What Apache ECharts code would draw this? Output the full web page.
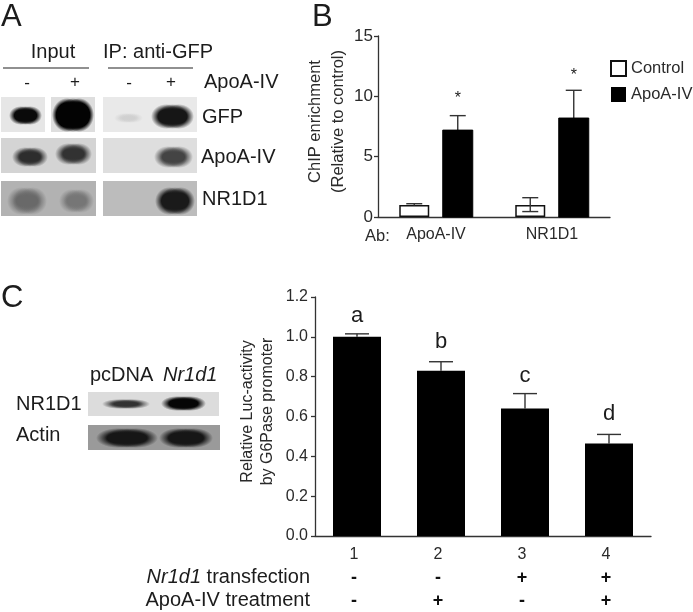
<!DOCTYPE html>
<html><head><meta charset="utf-8">
<style>html,body{margin:0;padding:0;background:#fff}#c{width:693px;height:612px;filter:blur(0.35px)}</style>
<script src="https://cdn.jsdelivr.net/npm/echarts@6/dist/echarts.min.js"></script>
</head><body><div id="c"></div>
<script>
// Panel B data
var chipCategories = ['ApoA-IV', 'NR1D1'];
var chipControl = [1.0, 1.0];
var chipApoA = [7.2, 8.2];
var chipControlErrLow = [0.95, 0.45];
var chipControlErrHigh = [1.1, 1.6];
var chipApoAErrHigh = [8.4, 10.5];
var chipStarValue = [9.85, 11.75];
var chipStars = ['*', '*'];
// Panel C data
var lucTicks = ['1', '2', '3', '4'];
var lucRowTransfection = ['-', '-', '+', '+'];
var lucRowTreatment = ['-', '+', '-', '+'];
var lucValues = [1.0, 0.83, 0.64, 0.465];
var lucErrHigh = [1.015, 0.875, 0.715, 0.51];
var lucLetters = ['a', 'b', 'c', 'd'];
var lucLetterValue = [1.105, 0.975, 0.805, 0.615];

var FONT = '"Liberation Sans", Arial, sans-serif';
var INK = '#2a2a2a';

function txt(text, x, y, size, extra) {
  var st = {x: x, y: y, text: text, fill: extra && extra.fill || '#1c1c1c',
    font: (extra && extra.style || '') + ' ' + size + 'px ' + FONT,
    textAlign: extra && extra.align || 'left', textVerticalAlign: 'middle'};
  return {type: 'text', z: 20, style: st};
}
function panel(x, y, w, h, c) {
  return {type: 'rect', z: 5, shape: {x: x, y: y, width: w, height: h}, style: {fill: c}};
}
// A blurred protein band on a blot: three overlapping soft ellipses.
function band(x1, x2, y1, y2, rgb, hard) {
  var ry = (y2 - y1) / 2, rx = (x2 - x1) * 0.36, cy = (y1 + y2) / 2;
  var solid = 'rgba(' + rgb + ',1)', clear = 'rgba(' + rgb + ',0)';
  return [x1 + rx, (x1 + x2) / 2, x2 - rx].map(function (cx) {
    return {type: 'circle', z: 6, x: cx, y: cy, scaleX: rx / ry, shape: {cx: 0, cy: 0, r: ry},
      style: {fill: {type: 'radial', x: 0.5, y: 0.5, r: 0.5,
        colorStops: [{offset: 0, color: solid}, {offset: hard, color: solid}, {offset: 1, color: clear}]}}};
  });
}
function rule(x1, x2, y) {
  return {type: 'line', z: 6, shape: {x1: x1, y1: y, x2: x2, y2: y}, style: {stroke: '#222', lineWidth: 1.2}};
}

var blots = [].concat(
  panel(1, 97, 44, 35, '#e6e6e6'), panel(51, 97, 44, 35, '#dedede'), panel(103, 97, 94, 35, '#e9e9e9'),
  panel(1, 138, 95, 35, '#d4d4d4'), panel(103, 138, 94, 35, '#dedede'),
  panel(1, 181, 95, 35, '#b2b2b2'), panel(103, 181, 94, 35, '#bcbcbc'),
  band(9, 42, 106, 125, '10,10,10', 0.55),
  band(52, 94, 98, 132, '3,3,3', 0.72),
  band(114, 143, 113, 123, '208,208,208', 0.2),
  band(151, 194, 104, 129, '22,22,22', 0.55),
  band(12, 48, 147, 167, '45,45,45', 0.4),
  band(55, 92, 143, 165, '50,50,50', 0.4),
  band(154, 193, 146, 168, '68,68,68', 0.4),
  band(7, 47, 187, 215, '105,105,105', 0.35),
  band(59, 94, 189, 213, '118,118,118', 0.35),
  band(155, 195, 187, 215, '26,26,26', 0.55),
  panel(88, 392, 131, 24, '#dcdcdc'), panel(88, 425, 132, 25, '#9a9a9a'),
  band(102, 150, 399, 409, '50,50,50', 0.3),
  band(161, 206, 396, 411, '6,6,6', 0.5),
  band(96, 158, 428, 448, '22,22,22', 0.5),
  band(159, 213, 428, 448, '22,22,22', 0.5),
  rule(3, 89, 68), rule(108, 193, 68)
);
var labels = [
  txt('A', 1, 17, 31), txt('B', 312, 17, 31), txt('C', 1, 298, 31),
  txt('Input', 53, 52, 20, {align: 'center'}), txt('IP: anti-GFP', 103, 52, 20),
  txt('-', 27, 83, 17, {align: 'center'}), txt('+', 75, 82, 17, {align: 'center'}),
  txt('-', 129, 83, 17, {align: 'center'}), txt('+', 171, 82, 17, {align: 'center'}),
  txt('ApoA-IV', 204, 82, 20), txt('GFP', 202, 117, 20), txt('ApoA-IV', 201, 157, 20), txt('NR1D1', 202, 199, 20),
  txt('pcDNA', 90, 375, 20), txt('Nr1d1', 163, 375, 20, {style: 'italic'}),
  txt('NR1D1', 16, 404, 20), txt('Actin', 16, 435, 20),
  txt('Ab:', 365, 236, 16.5, {fill: INK}),
  {type: 'text', z: 20, style: {x: 310, y: 577, text: '{i|Nr1d1} transfection', fill: '#1c1c1c', font: '20px ' + FONT, textAlign: 'right', textVerticalAlign: 'middle',
    rich: {i: {fontStyle: 'italic', fontSize: 20, fontFamily: FONT, fill: '#1c1c1c'}}}},
  txt('ApoA-IV treatment', 310, 600, 20, {align: 'right'})
];

function errorB(side) {
  return function (params, api) {
    var bandW = api.size([1, 0])[0];
    var off = side * bandW * 0.1875;
    var i = api.value(0);
    var top = api.coord([i, api.value(2)]);
    var low = api.coord([i, api.value(1)]);
    var x = top[0] + off;
    var ls = {stroke: '#333', lineWidth: 1.4};
    return {type: 'group', children: [
      {type: 'line', shape: {x1: x, y1: low[1], x2: x, y2: top[1]}, style: ls},
      {type: 'line', shape: {x1: x - 8, y1: top[1], x2: x + 8, y2: top[1]}, style: ls},
      {type: 'line', shape: {x1: x - 8, y1: low[1], x2: x + 8, y2: low[1]}, style: ls, invisible: api.value(3) !== 1}
    ]};
  };
}
var rowsText = {stars: chipStars, letters: lucLetters};
function markTextRender(fontSpec, sideOffset) {
  return function (params, api) {
    var p = api.coord([api.value(0), api.value(1)]);
    var off = api.size([1, 0])[0] * sideOffset;
    return {type: 'text', style: {x: p[0] + off, y: p[1], text: rowsText[params.seriesName][params.dataIndex],
      fill: '#1c1c1c', font: fontSpec, textAlign: 'center', textVerticalAlign: 'middle'}};
  };
}

var option = {
  animation: false,
  backgroundColor: '#fff',
  textStyle: {fontFamily: FONT},
  graphic: {elements: blots.concat(labels)},
  legend: {
    data: [{name: 'Control', icon: 'rect'}, {name: 'ApoA-IV', icon: 'rect'}],
    orient: 'vertical', left: 605, top: 55, itemWidth: 15, itemHeight: 15, itemGap: 9,
    textStyle: {fontSize: 16.5, color: INK, fontFamily: FONT},
    selectedMode: false
  },
  grid: [
    {left: 378, top: 36, width: 232, height: 181},
    {left: 315, top: 297, width: 336, height: 239}
  ],
  xAxis: [
    {gridIndex: 0, type: 'category', data: chipCategories,
      axisLine: {lineStyle: {color: '#333', width: 1.3}},
      axisTick: {alignWithLabel: true, length: 3, lineStyle: {color: '#333', width: 1.3}},
      axisLabel: {fontSize: 16, color: INK, margin: 10, fontFamily: FONT}},
    {gridIndex: 1, type: 'category', data: lucTicks,
      axisLine: {lineStyle: {color: '#333', width: 1.3}},
      axisTick: {alignWithLabel: true, length: 4, lineStyle: {color: '#333', width: 1.3}},
      axisLabel: {margin: 6, color: INK, fontFamily: FONT, padding: [0, 6, 0, 0], interval: 0,
        formatter: function (v, i) {
          return '{n|' + v + '}\n{s|' + lucRowTransfection[i] + '}\n{s|' + lucRowTreatment[i] + '}';
        },
        rich: {
          n: {fontSize: 16, lineHeight: 25, color: INK, fontFamily: FONT},
          s: {fontSize: 18, lineHeight: 23, color: '#111', fontWeight: 'bold', fontFamily: FONT}
        }}}
  ],
  yAxis: [
    {gridIndex: 0, type: 'value', min: 0, max: 15, interval: 5,
      name: 'ChIP enrichment\n(Relative to control)', nameLocation: 'middle', nameRotate: 90, nameGap: 17,
      nameTextStyle: {fontSize: 16.5, lineHeight: 23, color: INK, fontFamily: FONT, padding: [0, 0, 0, 10]},
      axisLine: {show: true, lineStyle: {color: '#333', width: 1.3}},
      axisTick: {show: true, length: 4, lineStyle: {color: '#333', width: 1.3}},
      axisLabel: {fontSize: 17, color: INK, margin: 5, fontFamily: FONT},
      splitLine: {show: false}},
    {gridIndex: 1, type: 'value', min: 0, max: 1.2, interval: 0.2,
      name: 'Relative Luc-activity\nby G6Pase promoter', nameLocation: 'middle', nameRotate: 90, nameGap: 37,
      nameTextStyle: {fontSize: 16, lineHeight: 20, color: INK, fontFamily: FONT, padding: [0, 0, 0, 10]},
      axisLine: {show: true, lineStyle: {color: '#333', width: 1.3}},
      axisTick: {show: true, length: 4, lineStyle: {color: '#333', width: 1.3}},
      axisLabel: {fontSize: 16, color: INK, margin: 7, fontFamily: FONT,
        formatter: function (v) { return v.toFixed(1); }},
      splitLine: {show: false}}
  ],
  series: [
    {name: 'Control', type: 'bar', xAxisIndex: 0, yAxisIndex: 0, data: chipControl, barWidth: 30, barGap: '45%',
      itemStyle: {color: '#fff', borderColor: '#111', borderWidth: 1.5}},
    {name: 'ApoA-IV', type: 'bar', xAxisIndex: 0, yAxisIndex: 0, data: chipApoA, barWidth: 30, barGap: '45%',
      itemStyle: {color: '#000', borderColor: '#000'}},
    {name: 'errControl', type: 'custom', xAxisIndex: 0, yAxisIndex: 0, z: 5, clip: false, renderItem: errorB(-1),
      data: chipCategories.map(function (c, i) { return [i, chipControlErrLow[i], chipControlErrHigh[i], i === 1 ? 1 : 0]; })},
    {name: 'errApoA', type: 'custom', xAxisIndex: 0, yAxisIndex: 0, z: 1, clip: false, renderItem: errorB(1),
      data: chipCategories.map(function (c, i) { return [i, chipApoA[i], chipApoAErrHigh[i], 0]; })},
    {name: 'stars', type: 'custom', xAxisIndex: 0, yAxisIndex: 0, clip: false, renderItem: markTextRender('16px ' + FONT, 0.1875),
      data: chipCategories.map(function (c, i) { return [i, chipStarValue[i]]; })},
    {name: 'Luc', type: 'bar', xAxisIndex: 1, yAxisIndex: 1, data: lucValues, barWidth: 48,
      itemStyle: {color: '#000'}},
    {name: 'errLuc', type: 'custom', xAxisIndex: 1, yAxisIndex: 1, z: 1, clip: false,
      renderItem: function (params, api) {
        var i = api.value(0), top = api.coord([i, api.value(2)]), low = api.coord([i, api.value(1)]);
        var ls = {stroke: '#333', lineWidth: 1.4};
        return {type: 'group', children: [
          {type: 'line', shape: {x1: top[0], y1: low[1], x2: top[0], y2: top[1]}, style: ls},
          {type: 'line', shape: {x1: top[0] - 12, y1: top[1], x2: top[0] + 12, y2: top[1]}, style: ls}
        ]};
      },
      data: lucTicks.map(function (c, i) { return [i, lucValues[i], lucErrHigh[i]]; })},
    {name: 'letters', type: 'custom', xAxisIndex: 1, yAxisIndex: 1, clip: false, renderItem: markTextRender('22px ' + FONT, 0),
      data: lucTicks.map(function (c, i) { return [i, lucLetterValue[i]]; })}
  ]
};
var chart = echarts.init(document.getElementById('c'), null, {renderer: 'canvas'});
chart.setOption(option);
</script></body></html>
